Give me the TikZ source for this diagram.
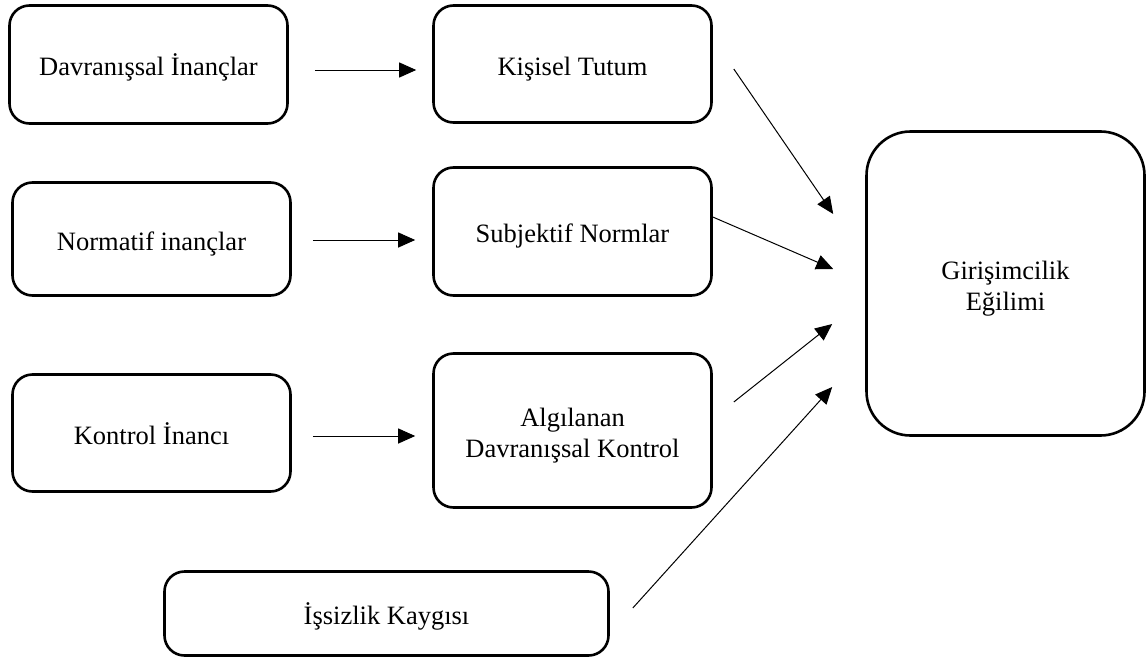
\documentclass[tikz,border=0pt]{standalone}
\usepackage{fontspec}
\setmainfont{Liberation Serif}
\usetikzlibrary{arrows.meta}
\newcommand\dn[1]{\raisebox{-5pt}[\height][\depth]{\begin{tabular}{@{}c@{}}#1\end{tabular}}}
\begin{document}
\begin{tikzpicture}[x=1pt,y=-1pt,
  box/.style={draw, line width=2.6pt, rounded corners=20pt, align=center,
    inner sep=0pt, font=\fontsize{26.5}{31}\selectfont},
  bigbox/.style={box, rounded corners=44pt},
  arr/.style={line width=1pt, -{Triangle[length=17pt,width=15pt]}}]
\useasboundingbox (0,0) rectangle (1147,661);
\node[box, minimum width=278pt, minimum height=118pt] (d1) at (148.5,64.5) {\dn{Davranışsal İnançlar}};
\node[box, minimum width=278pt, minimum height=113pt] (d2) at (151.5,239) {\dn{Normatif inançlar}};
\node[box, minimum width=278pt, minimum height=117pt] (d3) at (151.5,433) {\dn{Kontrol İnancı}};
\node[box, minimum width=278pt, minimum height=117pt] (m1) at (572.5,64) {\dn{Kişisel Tutum}};
\node[box, minimum width=278pt, minimum height=128pt] (m2) at (572.5,231.5) {\dn{Subjektif Normlar}};
\node[box, minimum width=278pt, minimum height=154pt] (m3) at (572.5,430.5) {\dn{Algılanan\\Davranışsal Kontrol}};
\node[box, minimum width=444pt, minimum height=84pt] (is) at (386.5,613.5) {\dn{İşsizlik Kaygısı}};
\node[bigbox, minimum width=278pt, minimum height=304pt] (g) at (1005.5,283.5) {\dn{Girişimcilik\\Eğilimi}};
\draw[arr] ([shift={(26,5.5)}]d1.east) -- ([shift={(-16,6)}]m1.west);
\draw[arr] ([shift={(21,1)}]d2.east) -- ([shift={(-17,1)}]m2.west |- d2.east);
\draw[arr] ([shift={(21,3)}]d3.east) -- ([shift={(-17,3)}]m3.west |- d3.east);
\draw[arr] ([shift={(21,5)}]m1.east) -- ([shift={(-32,-69.5)}]g.west);
\draw[arr] ([shift={(0,-14.5)}]m2.east) -- ([shift={(-32,-14.5)}]g.west);
\draw[arr] ([shift={(21,-28.5)}]m3.east) -- ([shift={(-33,40.5)}]g.west);
\draw[arr] ([shift={(23,-5.5)}]is.east) -- ([shift={(-33,103.5)}]g.west);
\end{tikzpicture}
\end{document}
